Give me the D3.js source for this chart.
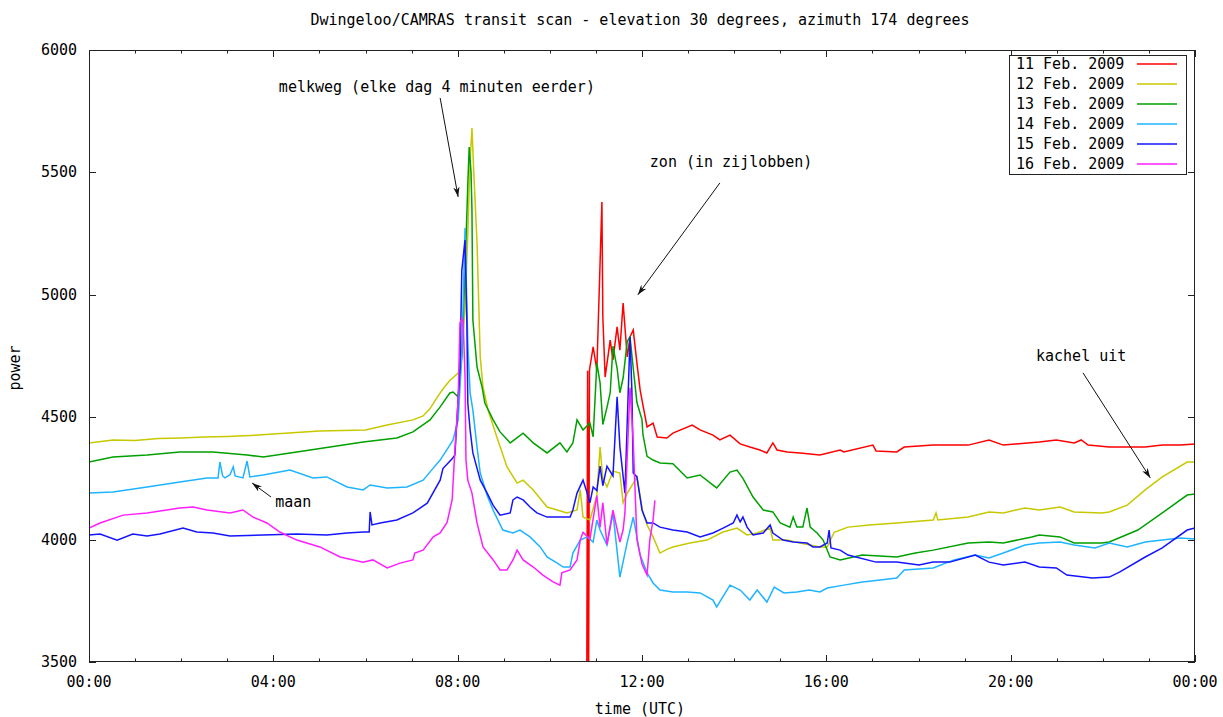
<!DOCTYPE html>
<html><head><meta charset="utf-8">
<script src="https://cdn.jsdelivr.net/npm/d3@7"></script>
<style>
body{margin:0;background:#fff}
svg{display:block}
text{font-family:"DejaVu Sans Mono",monospace;font-size:15px;fill:#000}
</style>
</head><body>
<svg id="c" width="1223" height="717"></svg>
<script>
const titleText = "Dwingeloo/CAMRAS transit scan - elevation 30 degrees, azimuth 174 degrees";
const xLabel = "time (UTC)";
const yLabel = "power";
const xTicks = [0, 4, 8, 12, 16, 20, 24];
const xTickLabels = ["00:00", "04:00", "08:00", "12:00", "16:00", "20:00", "00:00"];
const xMinorTicks = d3.range(0, 25, 1);
const yTicks = [3500, 4000, 4500, 5000, 5500, 6000];
const seriesNames = ["11 Feb. 2009", "12 Feb. 2009", "13 Feb. 2009", "14 Feb. 2009", "15 Feb. 2009", "16 Feb. 2009"];
const seriesColors = ["#ff0000", "#c8c800", "#00a000", "#1eb4ff", "#1414ff", "#ff1eff"];

// [hour, power]
const feb11 = [[10.80,3300],[10.82,4690],[10.84,3300],[10.86,4693],[10.94,4787],[11.02,4693],[11.13,5379],[11.15,4909],[11.20,4664],[11.31,4815],[11.37,4734],[11.46,4869],[11.52,4774],[11.59,4966],[11.68,4746],[11.74,4828],[11.81,4856],[11.89,4721],[11.96,4611],[12.00,4570],[12.11,4460],[12.24,4476],[12.33,4419],[12.54,4415],[12.67,4435],[13.09,4468],[13.26,4448],[13.54,4427],[13.69,4407],[13.91,4427],[14.13,4391],[14.34,4378],[14.56,4366],[14.71,4354],[14.84,4395],[14.93,4366],[15.15,4358],[15.43,4354],[15.86,4346],[16.30,4366],[16.38,4358],[17.01,4386],[17.08,4362],[17.53,4358],[17.69,4378],[18.32,4386],[19.08,4386],[19.53,4407],[19.84,4386],[20.62,4399],[20.99,4407],[21.38,4395],[21.53,4407],[21.68,4386],[22.14,4378],[22.92,4378],[23.29,4386],[23.68,4386],[24,4391]];
const feb12 = [[0,4395],[0.52,4407],[1.0,4405],[1.5,4413],[2.0,4415],[2.5,4419],[3.0,4421],[3.5,4425],[4.0,4431],[4.5,4438],[5.0,4444],[5.5,4446],[6.0,4448],[6.47,4468],[7.03,4489],[7.25,4505],[7.4,4535],[7.55,4580],[7.7,4620],[7.83,4650],[8.01,4680],[8.09,4750],[8.16,4950],[8.22,5250],[8.27,5550],[8.31,5681],[8.35,5500],[8.42,5212],[8.49,4746],[8.55,4623],[8.66,4529],[8.85,4419],[9.07,4297],[9.29,4231],[9.42,4243],[9.64,4203],[9.94,4133],[10.16,4121],[10.37,4109],[10.59,4121],[10.66,4203],[10.72,4092],[10.87,4080],[11.02,4180],[11.09,4378],[11.15,4250],[11.24,4215],[11.37,4280],[11.52,4272],[11.59,4150],[11.68,4190],[11.81,4230],[11.89,4256],[12.02,4109],[12.11,4060],[12.24,4011],[12.39,3945],[12.54,3960],[12.67,3970],[13.04,3986],[13.41,3998],[13.76,4031],[14.06,4047],[14.28,4019],[14.5,4027],[14.78,4047],[14.84,3998],[15.15,3998],[15.43,3986],[15.86,3970],[16.02,3970],[16.17,4030],[16.47,4051],[16.93,4060],[17.53,4068],[18.32,4080],[18.38,4109],[18.42,4080],[19.08,4092],[19.53,4113],[19.84,4109],[20.31,4129],[20.62,4121],[21.07,4133],[21.38,4113],[21.98,4109],[22.14,4113],[22.53,4141],[22.92,4203],[23.29,4256],[23.83,4317],[24,4317]];
const feb13 = [[0,4317],[0.52,4337],[1.26,4346],[1.97,4358],[2.69,4358],[3.43,4346],[3.78,4337],[4.51,4358],[5.23,4378],[5.95,4399],[6.68,4415],[7.03,4440],[7.40,4489],[7.62,4542],[7.83,4599],[7.90,4603],[8.01,4583],[8.09,4750],[8.16,5100],[8.22,5450],[8.25,5604],[8.29,5500],[8.31,5346],[8.33,4897],[8.42,4705],[8.53,4623],[8.59,4558],[8.77,4489],[8.92,4440],[9.14,4395],[9.42,4435],[9.64,4395],[9.94,4354],[10.22,4395],[10.37,4358],[10.50,4395],[10.59,4489],[10.72,4448],[10.87,4476],[10.94,4420],[11.02,4721],[11.09,4640],[11.15,4470],[11.24,4540],[11.31,4600],[11.37,4790],[11.46,4700],[11.52,4600],[11.59,4660],[11.68,4810],[11.74,4828],[11.81,4700],[11.89,4560],[12.00,4490],[12.02,4430],[12.11,4340],[12.24,4325],[12.39,4313],[12.67,4310],[12.98,4252],[13.26,4264],[13.62,4211],[13.91,4276],[14.06,4284],[14.19,4250],[14.41,4174],[14.63,4121],[14.84,4113],[15.00,4068],[15.21,4051],[15.28,4092],[15.36,4051],[15.49,4051],[15.58,4129],[15.65,4051],[15.80,4027],[15.93,3998],[16.08,3929],[16.30,3917],[16.78,3937],[17.53,3929],[17.93,3945],[18.32,3957],[19.08,3986],[19.53,3990],[19.84,3986],[20.46,4011],[20.62,4019],[21.07,4011],[21.38,3986],[21.98,3986],[22.14,3990],[22.76,4039],[23.29,4109],[23.83,4182],[24,4186]];
const feb14 = [[0,4190],[0.52,4194],[1.26,4215],[1.97,4235],[2.56,4252],[2.80,4252],[2.84,4317],[2.90,4260],[2.95,4252],[3.06,4265],[3.13,4297],[3.17,4260],[3.34,4252],[3.43,4321],[3.49,4256],[3.78,4264],[4.36,4284],[4.86,4252],[5.16,4256],[5.60,4215],[5.95,4203],[6.10,4223],[6.47,4211],[6.90,4215],[7.25,4243],[7.47,4292],[7.62,4325],[7.83,4386],[7.90,4407],[8.01,4489],[8.09,4750],[8.16,5273],[8.20,4950],[8.22,4803],[8.27,4599],[8.33,4529],[8.42,4378],[8.49,4272],[8.64,4180],[8.77,4120],[8.98,4039],[9.20,4027],[9.35,4039],[9.57,4011],[9.79,3970],[9.94,3929],[10.16,3904],[10.29,3888],[10.44,3888],[10.50,3945],[10.66,3998],[10.81,4011],[10.94,3990],[11.02,4080],[11.09,4039],[11.24,3978],[11.37,4109],[11.52,3847],[11.68,3990],[11.81,4092],[11.96,3937],[12.11,3864],[12.24,3823],[12.39,3794],[12.67,3786],[12.98,3786],[13.26,3782],[13.54,3753],[13.62,3725],[13.91,3814],[14.13,3794],[14.34,3753],[14.50,3794],[14.71,3745],[14.87,3806],[15.08,3782],[15.36,3786],[15.63,3794],[15.86,3786],[16.02,3802],[16.38,3814],[16.78,3827],[17.17,3835],[17.53,3843],[17.69,3876],[18.32,3884],[18.77,3917],[19.23,3937],[19.53,3925],[19.84,3945],[20.31,3978],[20.62,3986],[21.07,3990],[21.38,3978],[21.83,3966],[22.14,3986],[22.53,3970],[22.92,3990],[23.29,3998],[23.68,4007],[24,4002]];
const feb15 = [[0,4019],[0.24,4023],[0.61,3998],[0.95,4023],[1.26,4015],[1.54,4023],[2.04,4047],[2.34,4031],[2.69,4027],[3.06,4015],[3.78,4019],[4.51,4023],[5.16,4019],[5.60,4027],[5.95,4031],[6.08,4031],[6.10,4113],[6.14,4060],[6.32,4068],[6.68,4080],[7.03,4109],[7.34,4149],[7.62,4243],[7.68,4290],[7.88,4330],[7.94,4346],[8.05,4700],[8.09,5100],[8.16,5224],[8.20,4885],[8.22,4558],[8.27,4448],[8.33,4354],[8.49,4243],[8.64,4190],[8.77,4140],[8.92,4100],[9.14,4109],[9.20,4162],[9.29,4174],[9.42,4162],[9.57,4133],[9.72,4109],[9.94,4092],[10.22,4092],[10.44,4092],[10.50,4121],[10.59,4190],[10.72,4243],[10.81,4190],[10.87,4150],[10.94,4215],[11.02,4200],[11.09,4300],[11.15,4220],[11.24,4300],[11.37,4260],[11.46,4583],[11.52,4380],[11.63,4190],[11.74,4828],[11.78,4611],[11.81,4272],[11.89,4256],[12.00,4121],[12.11,4068],[12.24,4068],[12.39,4051],[12.67,4039],[12.98,4031],[13.26,4011],[13.54,4027],[13.76,4047],[13.98,4068],[14.06,4100],[14.13,4072],[14.19,4092],[14.28,4051],[14.41,4019],[14.63,4027],[14.78,4060],[14.84,4027],[15.06,3998],[15.28,3990],[15.58,3986],[15.71,3970],[15.86,3970],[16.02,3986],[16.06,4039],[16.10,3966],[16.30,3957],[16.47,3937],[17.08,3908],[17.53,3908],[18.01,3896],[18.32,3908],[18.68,3908],[19.23,3937],[19.53,3908],[19.84,3896],[20.31,3908],[20.62,3888],[20.99,3884],[21.22,3855],[21.77,3843],[22.14,3847],[22.37,3868],[22.92,3929],[23.29,3966],[23.83,4039],[24,4047]];
const feb16 = [[0,4047],[0.24,4068],[0.74,4100],[1.26,4109],[1.97,4129],[2.26,4133],[2.56,4121],[3.06,4109],[3.34,4121],[3.56,4092],[3.86,4068],[4.14,4031],[4.51,3998],[5.01,3970],[5.45,3929],[5.95,3908],[6.16,3917],[6.47,3884],[6.75,3904],[7.03,3917],[7.07,3945],[7.25,3957],[7.47,4011],[7.62,4027],[7.77,4070],[7.88,4162],[7.94,4366],[8.01,4570],[8.05,4885],[8.09,4905],[8.12,4885],[8.16,4664],[8.18,4325],[8.22,4243],[8.31,4190],[8.42,4068],[8.55,3970],[8.77,3917],[8.92,3876],[9.07,3876],[9.20,3917],[9.29,3957],[9.42,3917],[9.64,3888],[9.85,3855],[10.07,3827],[10.22,3814],[10.26,3864],[10.44,3876],[10.59,3917],[10.66,3998],[10.72,4030],[10.87,4002],[11.02,4180],[11.09,4050],[11.15,4150],[11.24,3980],[11.37,4120],[11.52,3990],[11.59,4040],[11.63,4110],[11.74,4620],[11.81,4400],[11.89,4000],[12.00,3900],[12.11,3855],[12.17,4000],[12.24,4080],[12.28,4160]];
const seriesData = [feb11, feb12, feb13, feb14, feb15, feb16];

// annotations: text, text anchor point [hour, power], arrow from, arrow to
const annotations = [
  {text: "melkweg (elke dag 4 minuten eerder)", at: [4.12, 5828], from: [7.62, 5804], to: [8.01, 5400]},
  {text: "zon (in zijlobben)", at: [12.17, 5522], from: [13.69, 5457], to: [11.91, 5000]},
  {text: "kachel uit", at: [20.55, 4730], from: [21.57, 4681], to: [23.03, 4252]},
  {text: "maan", at: [4.04, 4133], from: [3.95, 4174], to: [3.54, 4231]}
];

const L = 89, R = 1195, T = 50, B = 662;
const svg = d3.select("#c");
const x = d3.scaleLinear().domain([0, 24]).range([L, R]);
const y = d3.scaleLinear().domain([3500, 6000]).range([B, T]);

svg.append("defs").append("clipPath").attr("id", "plotclip")
  .append("rect").attr("x", L).attr("y", T).attr("width", R - L).attr("height", B - T);
svg.select("defs").append("marker").attr("id", "ah").attr("viewBox", "-10 -4 11 8")
  .attr("refX", 0).attr("refY", 0).attr("markerWidth", 11).attr("markerHeight", 8)
  .attr("markerUnits", "userSpaceOnUse").attr("orient", "auto")
  .append("path").attr("d", "M0,0 L-10,-3.2 L-7,0 L-10,3.2 Z").attr("fill", "#111");

// title and axis labels
svg.append("text").attr("x", 640).attr("y", 25).attr("text-anchor", "middle").text(titleText);
svg.append("text").attr("x", 640).attr("y", 714).attr("text-anchor", "middle").text(xLabel);
svg.append("text").attr("transform", "translate(20,368) rotate(-90)").attr("text-anchor", "middle").text(yLabel);

// ticks
const tickG = svg.append("g").attr("stroke", "#222").attr("stroke-width", 1);
xMinorTicks.forEach(h => {
  const major = xTicks.includes(h);
  const len = major ? 7 : 3.5;
  const px = Math.round(x(h)) + 0.5;
  tickG.append("line").attr("x1", px).attr("x2", px).attr("y1", B).attr("y2", B - len);
  tickG.append("line").attr("x1", px).attr("x2", px).attr("y1", T).attr("y2", T + len);
});
yTicks.forEach(v => {
  const py = Math.round(y(v)) + 0.5;
  tickG.append("line").attr("x1", L).attr("x2", L + 7).attr("y1", py).attr("y2", py);
  tickG.append("line").attr("x1", R).attr("x2", R - 7).attr("y1", py).attr("y2", py);
});
xTicks.forEach((h, i) => {
  svg.append("text").attr("x", x(h)).attr("y", 687).attr("text-anchor", "middle").text(xTickLabels[i]);
});
yTicks.forEach(v => {
  svg.append("text").attr("x", 77).attr("y", y(v) + 5).attr("text-anchor", "end").text(v);
});

// series
const line = d3.line().x(d => x(d[0])).y(d => y(d[1]));
const plotG = svg.append("g").attr("clip-path", "url(#plotclip)");
seriesData.forEach((d, i) => {
  plotG.append("path").datum(d).attr("d", line).attr("fill", "none")
    .attr("stroke", seriesColors[i]).attr("stroke-width", 1.5).attr("stroke-linejoin", "miter");
});

// annotations
annotations.forEach(a => {
  svg.append("text").attr("x", x(a.at[0])).attr("y", y(a.at[1])).text(a.text);
  svg.append("line").attr("x1", x(a.from[0])).attr("y1", y(a.from[1]))
    .attr("x2", x(a.to[0])).attr("y2", y(a.to[1]))
    .attr("stroke", "#111").attr("stroke-width", 1).attr("marker-end", "url(#ah)");
});

// legend
const lg = svg.append("g");
lg.append("rect").attr("x", 1009.5).attr("y", 55.5).attr("width", 177).attr("height", 119)
  .attr("fill", "#fff").attr("stroke", "#222").attr("stroke-width", 1);
seriesNames.forEach((n, i) => {
  const cy = 64 + i * 20;
  lg.append("text").attr("x", 1016).attr("y", cy + 5).text(n);
  lg.append("line").attr("x1", 1137).attr("x2", 1177).attr("y1", cy).attr("y2", cy)
    .attr("stroke", seriesColors[i]).attr("stroke-width", 1.5);
});

// border
svg.append("rect").attr("x", L + 0.5).attr("y", T + 0.5).attr("width", R - L - 1).attr("height", B - T - 1)
  .attr("fill", "none").attr("stroke", "#222").attr("stroke-width", 1);
</script>
</body></html>
